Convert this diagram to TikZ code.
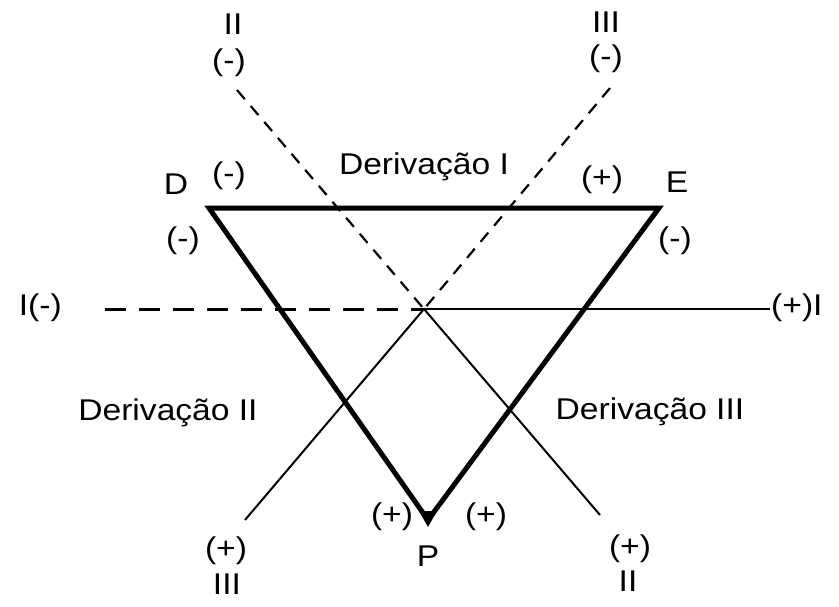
\documentclass[tikz,border=0pt]{standalone}
\usepackage{fontspec}
\setmainfont{Liberation Sans}[FakeStretch=1.12]
\begin{document}
\begin{tikzpicture}[x=1pt,y=-1pt,
  lbl/.style={inner sep=0pt,font=\fontsize{30}{34}\selectfont},
  tri/.style={line width=5pt,line join=miter},
  thin/.style={line width=2pt},
  dashdiag/.style={line width=2.2pt,dash pattern=on 12pt off 9pt},
  dashhor/.style={line width=3pt,dash pattern=on 21pt off 13pt}]
\useasboundingbox[fill=white] (0,0) rectangle (839,606);
% key points
\coordinate (D) at (209,208);
\coordinate (E) at (659,208);
\coordinate (P) at (428,520);
\coordinate (O) at (424,309);
\coordinate (IIa) at (237,90);
\coordinate (IIb) at (600,515);
\coordinate (IIIa) at (610,88);
\coordinate (IIIb) at (245,520);
\coordinate (Ia) at (105,309);
\coordinate (Ib) at (770,309);
% axes
\draw[dashhor] (Ia) -- (O);
\draw[thin] (O) -- (Ib);
\draw[dashdiag] (IIa) -- (O);
\draw[thin] (O) -- (IIb);
\draw[dashdiag] (IIIa) -- (O);
\draw[thin] (O) -- (IIIb);
% triangle
\draw[tri] (D) -- (E) -- (P) -- cycle;
\fill (419,511) -- (437,511) -- (428,527) -- cycle;
% labels
\node[lbl] (lD) at (176,184) {D};
\node[lbl] (lE) at (677,182) {E};
\node[lbl] (lP) at (428,556) {P};
\node[lbl] (dI) at (424,167) {Derivação I};
\node[lbl] (dII) at (168,413) {Derivação II};
\node[lbl] (dIII) at (650,412) {Derivação III};
\node[lbl] (m1) at (229,176) {(-)};
\node[lbl] (p1) at (602,180) {(+)};
\node[lbl] (m2) at (183,241) {(-)};
\node[lbl] (m3) at (675,241) {(-)};
\node[lbl] (p2) at (392,517) {(+)};
\node[lbl] (p3) at (486,517) {(+)};
\node[lbl,anchor=east] (lIm) at (62,308) {I(-)};
\node[lbl,anchor=west] (lIp) at (771,308) {(+)I};
\node[lbl] (tII) at (233,24) {II};
\node[lbl] (tIIm) at (229,63) {(-)};
\node[lbl] (tIII) at (606,22) {III};
\node[lbl] (tIIIm) at (606,59) {(-)};
\node[lbl] (bIIIp) at (226,551) {(+)};
\node[lbl] (bIII) at (227,584) {III};
\node[lbl] (bIIp) at (630,549) {(+)};
\node[lbl] (bII) at (628,581) {II};
\end{tikzpicture}
\end{document}
